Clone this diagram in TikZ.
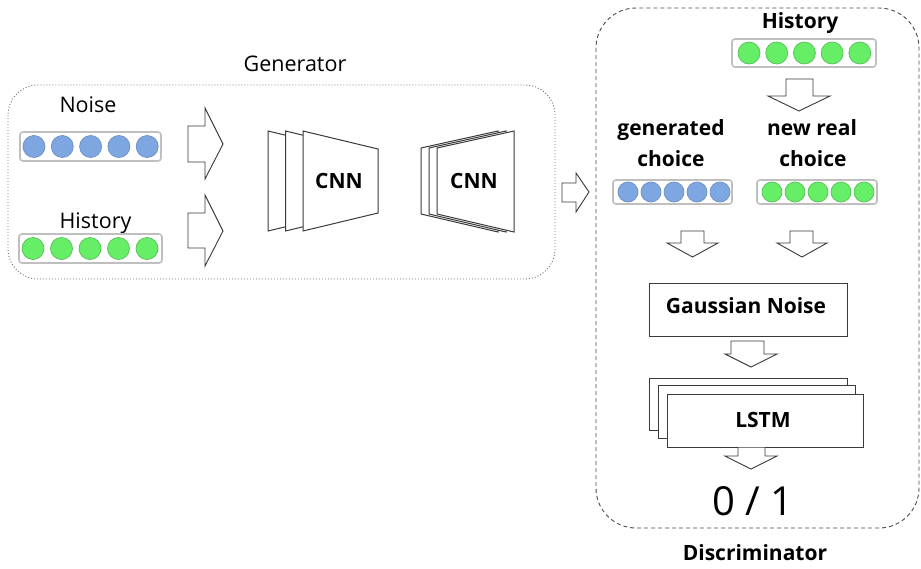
\documentclass[tikz,border=0pt]{standalone}
\usepackage{fontspec}
\setmainfont{Open Sans}
\definecolor{dotblue}{HTML}{7EA6E0}
\definecolor{dotblueline}{HTML}{6B8FC4}
\definecolor{dotgreen}{HTML}{66EE66}
\definecolor{dotgreenline}{HTML}{56BF56}
\definecolor{inkline}{HTML}{3A3A3A}
\begin{document}
\begin{tikzpicture}[x=1pt,y=-1pt,
  lbl/.style={inner sep=0pt, anchor=base, font=\fontsize{21.5}{26}\selectfont},
  blbl/.style={inner sep=0pt, anchor=base, font=\bfseries\fontsize{21}{26}\selectfont},
  bigl/.style={inner sep=0pt, anchor=base, font=\fontsize{40}{46}\selectfont},
  blockarrow/.style={draw=inkline, line width=0.9pt, fill=white, line join=miter},
  layer/.style={draw=inkline, line width=1pt, fill=white, line join=miter},
  panel/.style={draw=inkline, line width=1pt, fill=white, rectangle, inner sep=0pt},
  vecbox/.style={draw=black!25, line width=1.6pt, rounded corners=3pt, fill=white, rectangle, inner sep=0pt},
  bluedot/.style={fill=dotblue, draw=dotblueline, line width=0.7pt},
  greendot/.style={fill=dotgreen, draw=dotgreenline, line width=0.7pt}]

\useasboundingbox (0,0) rectangle (921,568);

% ---------- Generator frame ----------
\draw[draw=black!55, line width=0.9pt, dash pattern=on 1pt off 2pt, rounded corners=30pt]
  (8,85) rectangle (555,279);
\node[lbl] (genlabel) at (295,71) {Generator};

% noise input
\node[lbl] (noiselabel) at (88,112) {Noise};
\node[vecbox, minimum width=141pt, minimum height=29pt] (noisevec) at (90.5,146.5) {};
\foreach \i in {0,...,4}
  \draw[bluedot] ({34+28.3*\i},146.5) circle[radius=11pt];

% history input
\node[lbl] (histlabel) at (95.5,228) {History};
\node[vecbox, minimum width=143pt, minimum height=29pt] (histvec) at (90.5,248.5) {};
\foreach \i in {0,...,4}
  \draw[greendot] ({33+28.5*\i},248.5) circle[radius=11pt];

% block arrows into the encoder
\draw[blockarrow] (188,126) -- (205,126) -- (205,108) -- (223,144) -- (205,179) -- (205,162) -- (188,162) -- cycle;
\draw[blockarrow] (188,213) -- (205,213) -- (205,195) -- (223,231) -- (205,266) -- (205,248) -- (188,248) -- cycle;

% encoder CNN: three stacked trapezoids
\foreach \s in {-35,-17.5,0}
  \draw[layer] ({303+\s},131) -- ({378+\s},149) -- ({378+\s},213) -- ({303+\s},231) -- cycle;
\node[blbl] (enc) at (339,188) {CNN};

% decoder CNN: three stacked trapezoids
\foreach \s in {-16,-8,0}
  \draw[layer] ({437+\s},148) -- ({514+\s},131) -- ({514+\s},232) -- ({437+\s},214) -- cycle;
\node[blbl] (dec) at (474,188) {CNN};

% generator to discriminator
\draw[blockarrow] (562,183) -- (576,183) -- (576,173) -- (589,192) -- (576,212) -- (576,202) -- (562,202) -- cycle;

% ---------- Discriminator frame ----------
\draw[draw=black!70, line width=0.9pt, dash pattern=on 4pt off 3pt, rounded corners=40pt]
  (596,8) rectangle (919,528);
\node[blbl] (disclabel) at (755,560) {Discriminator};

% history
\node[blbl] (rhist) at (800,28) {History};
\node[vecbox, minimum width=144pt, minimum height=28pt] (rhistvec) at (804,53) {};
\foreach \i in {0,...,4}
  \draw[greendot] ({749+27.7*\i},53) circle[radius=11pt];
\draw[blockarrow] (786,79) -- (813,79) -- (813,96) -- (830,96) -- (799,111) -- (768,96) -- (786,96) -- cycle;

% generated choice
\node[blbl] (gen1) at (671,135) {generated};
\node[blbl] (gen2) at (671,166) {choice};
\node[vecbox, minimum width=119pt, minimum height=24pt] (genvec) at (672.5,192) {};
\foreach \i in {0,...,4}
  \draw[bluedot] ({628+23*\i},192) circle[radius=10pt];

% new real choice
\node[blbl] (real1) at (812,135) {new real};
\node[blbl] (real2) at (813,166) {choice};
\node[vecbox, minimum width=120pt, minimum height=24pt] (realvec) at (817,192) {};
\foreach \i in {0,...,4}
  \draw[greendot] ({772+23*\i},192) circle[radius=10pt];

% arrows into the noise layer
\draw[blockarrow] (681,231) -- (704,231) -- (704,243) -- (718,243) -- (692.5,257) -- (667,243) -- (681,243) -- cycle;
\draw[blockarrow] (790,231) -- (813,231) -- (813,243) -- (827,243) -- (802,257) -- (777,243) -- (790,243) -- cycle;

% gaussian noise
\node[panel, minimum width=198pt, minimum height=53pt] (gauss) at (748,309.5) {};
\node[blbl] at (746,313) {Gaussian Noise};

\draw[blockarrow] (731,341) -- (764,341) -- (764,354) -- (777,354) -- (751,367) -- (725,354) -- (731,354) -- cycle;

% LSTM stack
\node[panel, minimum width=198pt, minimum height=52pt] (lstmc) at (748,404) {};
\node[panel, minimum width=197pt, minimum height=53pt] (lstmb) at (756.5,411.5) {};
\node[panel, minimum width=196pt, minimum height=53pt] (lstma) at (765,420.5) {};
\node[blbl] at (763,427) {LSTM};

\draw[blockarrow] (lstma.south -| 738,0) -- (738,456) -- (725,456) -- (751,469) -- (777,456) -- (765,456) -- (lstma.south -| 765,0);

\node[bigl] (out) at (753,515) {0 / 1};
\end{tikzpicture}
\end{document}
